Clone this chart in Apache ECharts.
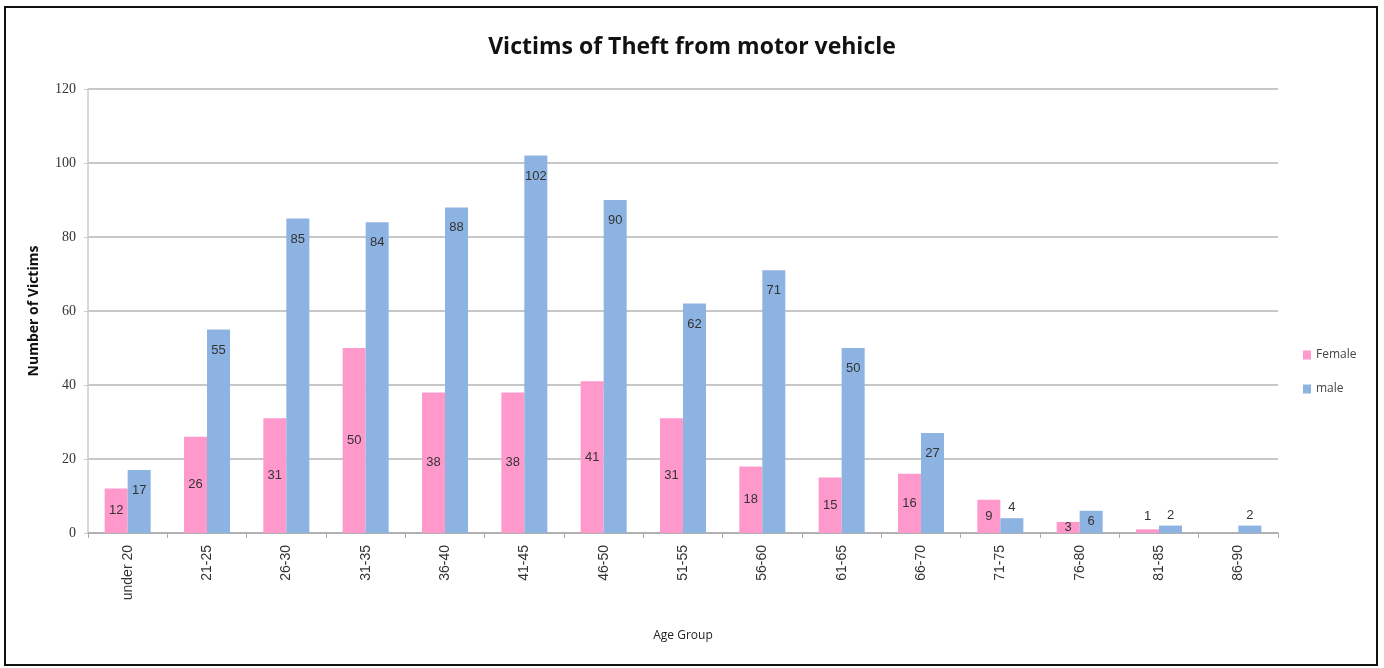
<!DOCTYPE html>
<html>
<head>
<meta charset="utf-8">
<script src="https://cdn.jsdelivr.net/npm/echarts@6/dist/echarts.min.js"></script>
<style>
html,body{margin:0;padding:0;background:#fff;}
#chart{width:1384px;height:668px;}
</style>
</head>
<body>
<div id="chart"></div>
<script>
const categories = ['under 20','21-25','26-30','31-35','36-40','41-45','46-50','51-55','56-60','61-65','66-70','71-75','76-80','81-85','86-90'];
const female = [12,26,31,50,38,38,41,31,18,15,16,9,3,1,0];
const male = [17,55,85,84,88,102,90,62,71,50,27,4,6,2,2];
const yTicks = [0,20,40,60,80,100,120];

const labelFont = {fontFamily:'Liberation Sans, Arial', fontSize:13, color:'#333'};

function femaleItems(arr){
  return arr.map(v => ({
    value: v,
    label: v < 2 ? {position:'top', distance:6} : {position:'inside'}
  }));
}
function maleItems(arr){
  return arr.map(v => ({
    value: v,
    label: v < 5 ? {position:'top', distance:4} : (v < 10 ? {position:'inside'} : {position:'insideTop', distance:14})
  }));
}

const chart = echarts.init(document.getElementById('chart'));
chart.setOption({
  animation:false,
  backgroundColor:'#fff',
  title:{
    text:'Victims of Theft from motor vehicle',
    left:'center', top:31,
    textStyle:{fontFamily:'Open Sans, Liberation Sans', fontSize:23, fontWeight:'bold', color:'#111'}
  },
  legend:{
    orient:'vertical', left:1298, top:344,
    itemWidth:8, itemHeight:9, itemGap:22,
    icon:'rect',
    textStyle:{fontFamily:'Open Sans, Liberation Sans', fontSize:12, color:'#444'},
    data:['Female','male']
  },
  grid:{left:88, right:106, top:89, bottom:135},
  xAxis:{
    type:'category',
    data:categories,
    name:'Age Group',
    nameLocation:'middle',
    nameGap:97,
    nameTextStyle:{fontFamily:'Open Sans, Liberation Sans', fontSize:12, color:'#222'},
    axisLine:{lineStyle:{color:'#aaa', width:1.5}},
    axisTick:{show:true, alignWithLabel:false, length:5, lineStyle:{color:'#aaa'}},
    axisLabel:{rotate:90, fontFamily:'Liberation Sans, Arial', fontSize:14, color:'#333', margin:12}
  },
  yAxis:{
    type:'value',
    min:0, max:120, interval:20,
    name:'Number of Victims',
    nameLocation:'middle',
    nameGap:47,
    nameRotate:90,
    nameTextStyle:{fontFamily:'Open Sans, Liberation Sans', fontSize:14, fontWeight:'bold', color:'#111'},
    axisLine:{show:true, lineStyle:{color:'#ccc', width:1.5}},
    axisTick:{show:true, length:4, lineStyle:{color:'#ccc'}},
    axisLabel:{fontFamily:'Liberation Serif, Times New Roman', fontSize:14, color:'#333', margin:12,
      formatter: v => yTicks.includes(v) ? String(v) : ''},
    splitLine:{lineStyle:{color:'#b5b5b5', width:1.5}}
  },
  series:[
    {
      name:'Female', type:'bar',
      data:femaleItems(female),
      itemStyle:{color:'#FF99CC'},
      barGap:'0%', barCategoryGap:'42%',
      label:{show:true, ...labelFont, formatter: p => p.value === 0 ? '' : String(p.value)}
    },
    {
      name:'male', type:'bar',
      data:maleItems(male),
      itemStyle:{color:'#8DB3E2'},
      barGap:'0%', barCategoryGap:'42%',
      label:{show:true, ...labelFont}
    }
  ],
  graphic:[
    {type:'rect', shape:{x:5, y:7, width:1372, height:658}, style:{fill:'none', stroke:'#111', lineWidth:2}, silent:true}
  ]
});
</script>
</body>
</html>
